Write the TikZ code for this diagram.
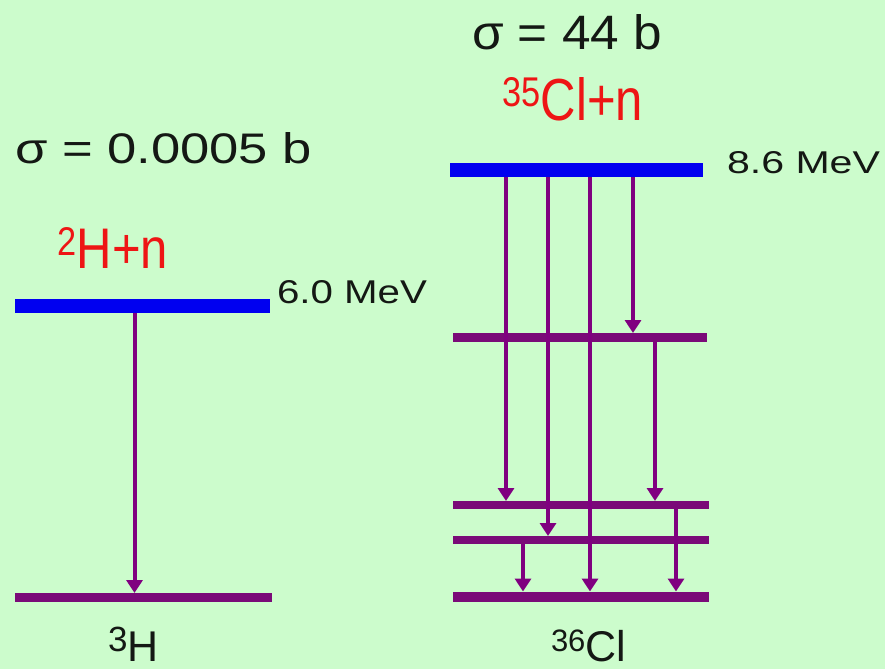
\documentclass[tikz,border=0pt]{standalone}
\usepackage{fontspec}
\setmainfont{Liberation Sans}
\usetikzlibrary{arrows.meta}
\definecolor{bg}{HTML}{CCFCCC}
\definecolor{lvlblue}{HTML}{0000F0}
\definecolor{lvlpurple}{HTML}{7A0A78}
\definecolor{trpurple}{HTML}{800080}
\definecolor{txt}{HTML}{141814}
\definecolor{redtxt}{HTML}{EE1515}
\tikzset{
  lvl/.style={rectangle, fill=lvlpurple, minimum height=8pt, inner sep=0pt, outer sep=0pt},
  toplvl/.style={lvl, fill=lvlblue, minimum height=14pt},
  trans/.style={draw=trpurple, line width=4pt, -{Triangle[width=16pt,length=13pt]}},
  lbl/.style={inner sep=0pt, outer sep=0pt, anchor=base west, text=txt},
  redlbl/.style={lbl, text=redtxt}
}
\begin{document}
\begin{tikzpicture}[x=1pt,y=-1pt]
\useasboundingbox (0,0) rectangle (885,669);
\fill[bg] (0,0) rectangle (885,669);
\clip (0,0) rectangle (885,669);

% ---------- left: 2H + n -> 3H ----------
\node[toplvl, minimum width=255pt] (H2) at (142.5,306) {};
\node[lvl, minimum width=257pt, minimum height=9pt] (H3) at (143.5,597.5) {};
\coordinate (xa) at (134.5,0);
\draw[trans] (H2.south -| xa) -- (H3.north -| xa);

\node[lbl] (sigL) at (15,163) {\resizebox{297pt}{31pt}{\fontsize{42}{42}\selectfont σ = 0.0005 b}};
\node[redlbl] (reacL) at (57,268) {\resizebox{111pt}{40pt}{\fontsize{43}{43}\selectfont \textsuperscript{2}H+n}};
\node[lbl] (eL) at (277,303) {\resizebox{150pt}{23pt}{\fontsize{32}{32}\selectfont 6.0 MeV}};
\node[lbl] (prodL) at (108,661) {\raisebox{10pt}{\fontsize{35}{35}\selectfont 3}\fontsize{43}{43}\selectfont H};

% ---------- right: 35Cl + n -> 36Cl ----------
\node[toplvl, minimum width=253pt] (C0) at (576.5,170) {};
\node[lvl, minimum width=254pt, minimum height=9pt] (Ca) at (580,337.5) {};
\node[lvl, minimum width=256pt] (Cb) at (581,505) {};
\node[lvl, minimum width=256pt] (Cc) at (581,540) {};
\node[lvl, minimum width=256pt, minimum height=10pt] (Cg) at (581,596.5) {};

\coordinate (x1) at (506,0);
\coordinate (x2) at (548,0);
\coordinate (x3) at (590,0);
\coordinate (x4) at (633,0);
\coordinate (x5) at (655,0);
\coordinate (x6) at (676,0);
\coordinate (x7) at (523,0);

\draw[trans] (C0.south -| x1) -- (Cb.north -| x1);
\draw[trans] (C0.south -| x2) -- (Cc.north -| x2);
\draw[trans] (C0.south -| x3) -- (Cg.north -| x3);
\draw[trans] (C0.south -| x4) -- (Ca.north -| x4);
\draw[trans] (Ca.south -| x5) -- (Cb.north -| x5);
\draw[trans] (Cb.south -| x6) -- (Cg.north -| x6);
\draw[trans] (Cc.south -| x7) -- (Cg.north -| x7);

\node[lbl] (sigR) at (472,49) {\resizebox{190pt}{35pt}{\fontsize{47}{47}\selectfont σ = 44 b}};
\node[redlbl] (reacR) at (502,120) {\resizebox{141pt}{43pt}{\fontsize{41}{41}\selectfont \textsuperscript{35}Cl+n}};
\node[lbl] (eR) at (727,173) {\resizebox{153pt}{22pt}{\fontsize{31}{31}\selectfont 8.6 MeV}};
\node[lbl] (prodR) at (551,661) {\raisebox{10pt}{\fontsize{31}{31}\selectfont 36}\fontsize{43}{43}\selectfont Cl};
\end{tikzpicture}
\end{document}
